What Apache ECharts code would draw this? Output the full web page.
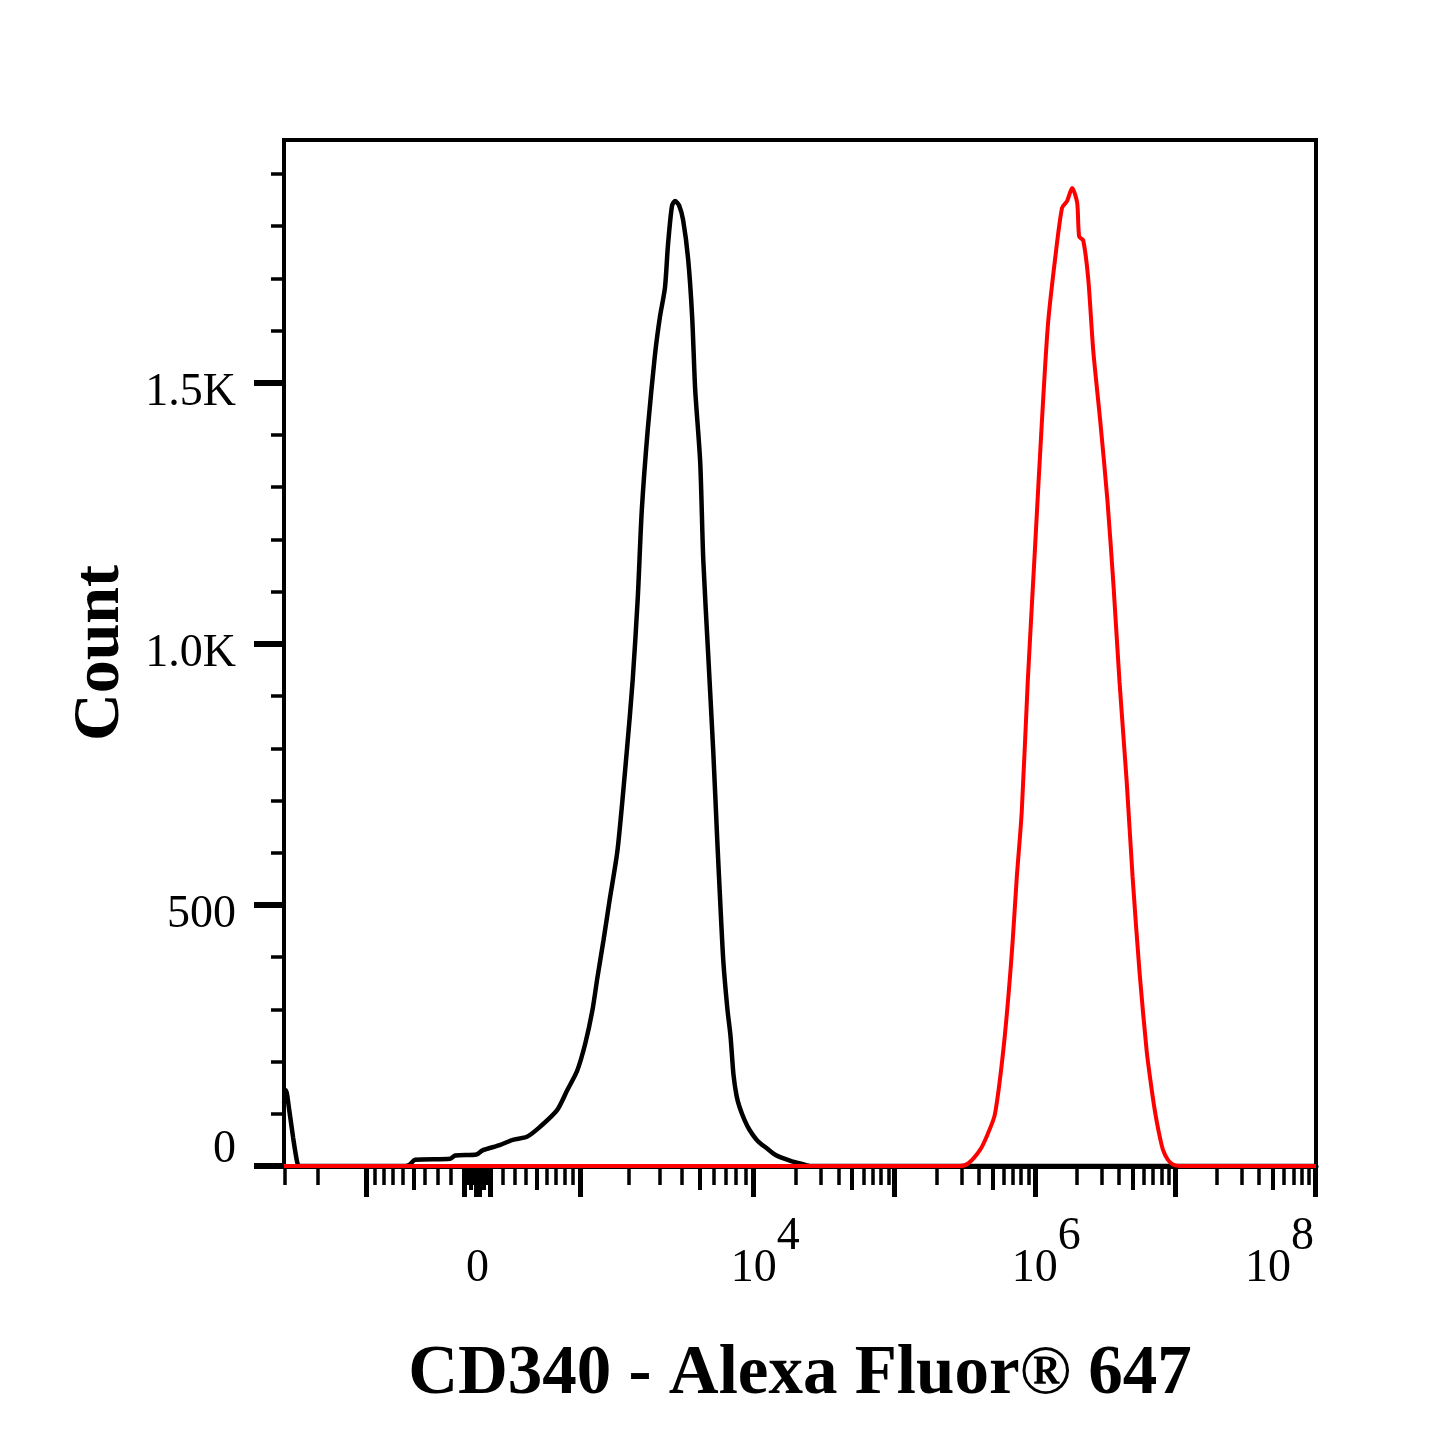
<!DOCTYPE html>
<html>
<head>
<meta charset="utf-8">
<script src="https://cdn.jsdelivr.net/npm/echarts@6/dist/echarts.min.js"></script>
<style>
  html, body { margin: 0; padding: 0; background: #fff; }
  #chart { width: 1445px; height: 1445px; }
</style>
</head>
<body>
<div id="chart"></div>
<script>
// ---------------- DATA ----------------
// Histogram counts over display channels (0..1024 of the biexponential axis)
const blackChannels = [0, 2, 5, 9, 13, 15, 120, 125, 130, 165, 170, 191, 197, 214, 227, 241, 254, 271, 281, 291, 299, 306, 311, 317, 323, 331, 340, 346, 351, 355, 361, 368, 373, 378, 381, 385, 388, 392, 396, 401, 405, 408, 413, 416, 421, 426, 430, 433, 436, 440, 443, 446, 449, 452, 457, 462, 470, 479, 487, 495, 504, 512, 522, 1024];
const blackCounts   = [120, 145, 110, 55, 8, 0, 0, 3, 12, 14, 20, 22, 30, 40, 50, 56, 75, 107, 145, 183, 235, 298, 361, 432, 508, 606, 791, 931, 1087, 1255, 1412, 1552, 1626, 1682, 1764, 1839, 1848, 1840, 1812, 1737, 1626, 1487, 1347, 1162, 976, 791, 620, 500, 390, 300, 250, 175, 135, 113, 88, 69, 48, 34, 22, 15, 9, 5, 0, 0];

const redChannels = [0, 671, 679, 691, 698, 705, 710, 715, 719, 723, 727, 732, 738, 745, 752, 758, 765, 772, 777, 782, 787, 789, 793, 798, 803, 810, 817, 823, 829, 836, 842, 849, 856, 860, 864, 868, 872, 877, 882, 889, 1024];
const redCounts   = [0, 0, 5, 32, 60, 96, 160, 245, 330, 430, 550, 678, 928, 1177, 1425, 1611, 1735, 1835, 1848, 1873, 1845, 1780, 1773, 1699, 1561, 1425, 1276, 1114, 928, 741, 554, 369, 220, 160, 107, 65, 32, 12, 3, 0, 0];

// X tick values (fluorescence units)
const xMajorTicks = [-1000, -100, -10, 0, 10, 100, 1000, 1e4, 1e5, 1e6, 1e7, 1e8];
const xMidTicks   = [-500, -50, 50, 500, 5000, 5e4, 5e5, 5e6, 5e7];
const xMinorTicks = [-3000, -2000, -900, -800, -700, -600, -400, -300, -200, -90, -80, -70, -60, -40, -30, -20,
  20, 30, 40, 60, 70, 80, 90, 200, 300, 400, 600, 700, 800, 900,
  2000, 3000, 4000, 6000, 7000, 8000, 9000,
  2e4, 3e4, 4e4, 6e4, 7e4, 8e4, 9e4,
  2e5, 3e5, 4e5, 6e5, 7e5, 8e5, 9e5,
  2e6, 3e6, 4e6, 6e6, 7e6, 8e6, 9e6,
  2e7, 3e7, 4e7, 6e7, 7e7, 8e7, 9e7];
const xLabelValues = [0, 1e4, 1e6, 1e8];
const xLabelExponents = ['', '4', '6', '8'];

// Y ticks
const yLabelValues = [0, 500, 1000, 1500];
const yLabelTexts  = ['0', '500', '1.0K', '1.5K'];
const yMinorTicks  = [100, 200, 300, 400, 600, 700, 800, 900, 1100, 1200, 1300, 1400, 1600, 1700, 1800, 1900];

const xTitle = 'CD340 - Alexa Fluor® 647';
const yTitle = 'Count';

// ---------------- BIEXPONENTIAL SCALE DEFINITION ----------------
const BIEX_WIDTH = 700;
const scaleValues   = [-3030, -2000, -1000, 0, 1000, 1e4, 1e5, 1e6, 1e7, 1e8];
const scaleChannels = [0, 33, 82, 192, 294, 466, 606, 745, 884, 1023];
const scaleU = scaleValues.map(v => Math.asinh(v / BIEX_WIDTH));
function toChannel(v) {
  const u = Math.asinh(v / BIEX_WIDTH);
  let i = 0;
  while (i < scaleU.length - 2 && u > scaleU[i + 1]) i++;
  const t = (u - scaleU[i]) / (scaleU[i + 1] - scaleU[i]);
  return scaleChannels[i] + t * (scaleChannels[i + 1] - scaleChannels[i]);
}

const FONT = 'Liberation Serif';
const blackData = blackChannels.map((c, i) => [c, blackCounts[i]]);
const redData = redChannels.map((c, i) => [c, redCounts[i]]);

function xLabelFormatter(val) {
  const idx = xLabelValues.findIndex(v => Math.abs(toChannel(v) - val) < 0.01);
  if (idx < 0) return '';
  const e = xLabelExponents[idx];
  if (!e) return '{b|0}';
  if (idx === xLabelValues.length - 1) return '{b|10}{s|' + e + '}{tr| }';
  return '{sp| }{b|10}{s|' + e + '}';
}

const hiddenAxisParts = { axisLine: { show: false }, axisLabel: { show: false }, splitLine: { show: false } };

const option = {
  animation: false,
  backgroundColor: '#fff',
  grid: { left: 284, top: 140, right: 129, bottom: 279, show: true, borderColor: '#000', borderWidth: 4, backgroundColor: 'transparent' },
  xAxis: [
    {
      type: 'value', min: 0, max: 1024, position: 'bottom',
      name: xTitle, nameLocation: 'middle', nameGap: 175,
      nameTextStyle: { fontFamily: FONT, fontWeight: 'bold', fontSize: 69, color: '#000' },
      axisLine: { show: true, lineStyle: { color: '#000', width: 5 } },
      axisTick: { show: true, customValues: xMajorTicks.map(toChannel), length: 31, lineStyle: { color: '#000', width: 5 } },
      axisLabel: {
        show: true, customValues: xLabelValues.map(toChannel), margin: 48,
        formatter: xLabelFormatter, color: '#000', fontFamily: FONT, fontSize: 46,
        rich: {
          b: { fontFamily: FONT, fontSize: 46, color: '#000', padding: [32, 0, 0, 0], verticalAlign: 'bottom' },
          s: { fontFamily: FONT, fontSize: 46, color: '#000', verticalAlign: 'top' },
          sp: { width: 23 },
          tr: { width: 71 }
        }
      },
      splitLine: { show: false }
    },
    Object.assign({
      type: 'value', min: 0, max: 1024, position: 'bottom',
      axisTick: { show: true, customValues: xMidTicks.map(toChannel), length: 24, lineStyle: { color: '#000', width: 4 } }
    }, hiddenAxisParts),
    Object.assign({
      type: 'value', min: 0, max: 1024, position: 'bottom',
      axisTick: { show: true, customValues: xMinorTicks.map(toChannel), length: 19, lineStyle: { color: '#000', width: 3.5 } }
    }, hiddenAxisParts)
  ],
  yAxis: [
    {
      type: 'value', min: 0, max: 1965, position: 'left',
      name: yTitle, nameLocation: 'middle', nameGap: 150, nameRotate: 90,
      nameTextStyle: { fontFamily: FONT, fontWeight: 'bold', fontSize: 66, color: '#000' },
      axisLine: { show: true, lineStyle: { color: '#000', width: 4 } },
      axisTick: { show: true, customValues: yLabelValues, length: 30, lineStyle: { color: '#000', width: 6 } },
      axisLabel: {
        show: true, customValues: yLabelValues, margin: 48, color: '#000', fontFamily: FONT, fontSize: 46,
        formatter: function (val) {
          const idx = yLabelValues.indexOf(val);
          if (idx < 0) return '';
          return (val === 0 ? '{z|' : '{d|') + yLabelTexts[idx] + '}';
        },
        rich: {
          d: { fontFamily: FONT, fontSize: 46, color: '#000', padding: [20, 0, 0, 0] },
          z: { fontFamily: FONT, fontSize: 46, color: '#000', padding: [0, 0, 32, 0] }
        }
      },
      splitLine: { show: false }
    },
    Object.assign({
      type: 'value', min: 0, max: 1965, position: 'left',
      axisTick: { show: true, customValues: yMinorTicks, length: 13, lineStyle: { color: '#000', width: 3.5 } }
    }, hiddenAxisParts)
  ],
  series: [
    {
      type: 'line', name: 'Control', data: blackData, xAxisIndex: 0, yAxisIndex: 0,
      showSymbol: false, symbol: 'none', smooth: 0.25, lineStyle: { color: '#000', width: 4.5 }, clip: true, z: 2
    },
    {
      type: 'line', name: 'CD340', data: redData, xAxisIndex: 0, yAxisIndex: 0,
      showSymbol: false, symbol: 'none', smooth: 0.25, lineStyle: { color: '#ff0000', width: 4 }, clip: true, z: 3
    }
  ]
};

const chart = echarts.init(document.getElementById('chart'), null, { renderer: 'canvas' });
chart.setOption(option);
</script>
</body>
</html>
